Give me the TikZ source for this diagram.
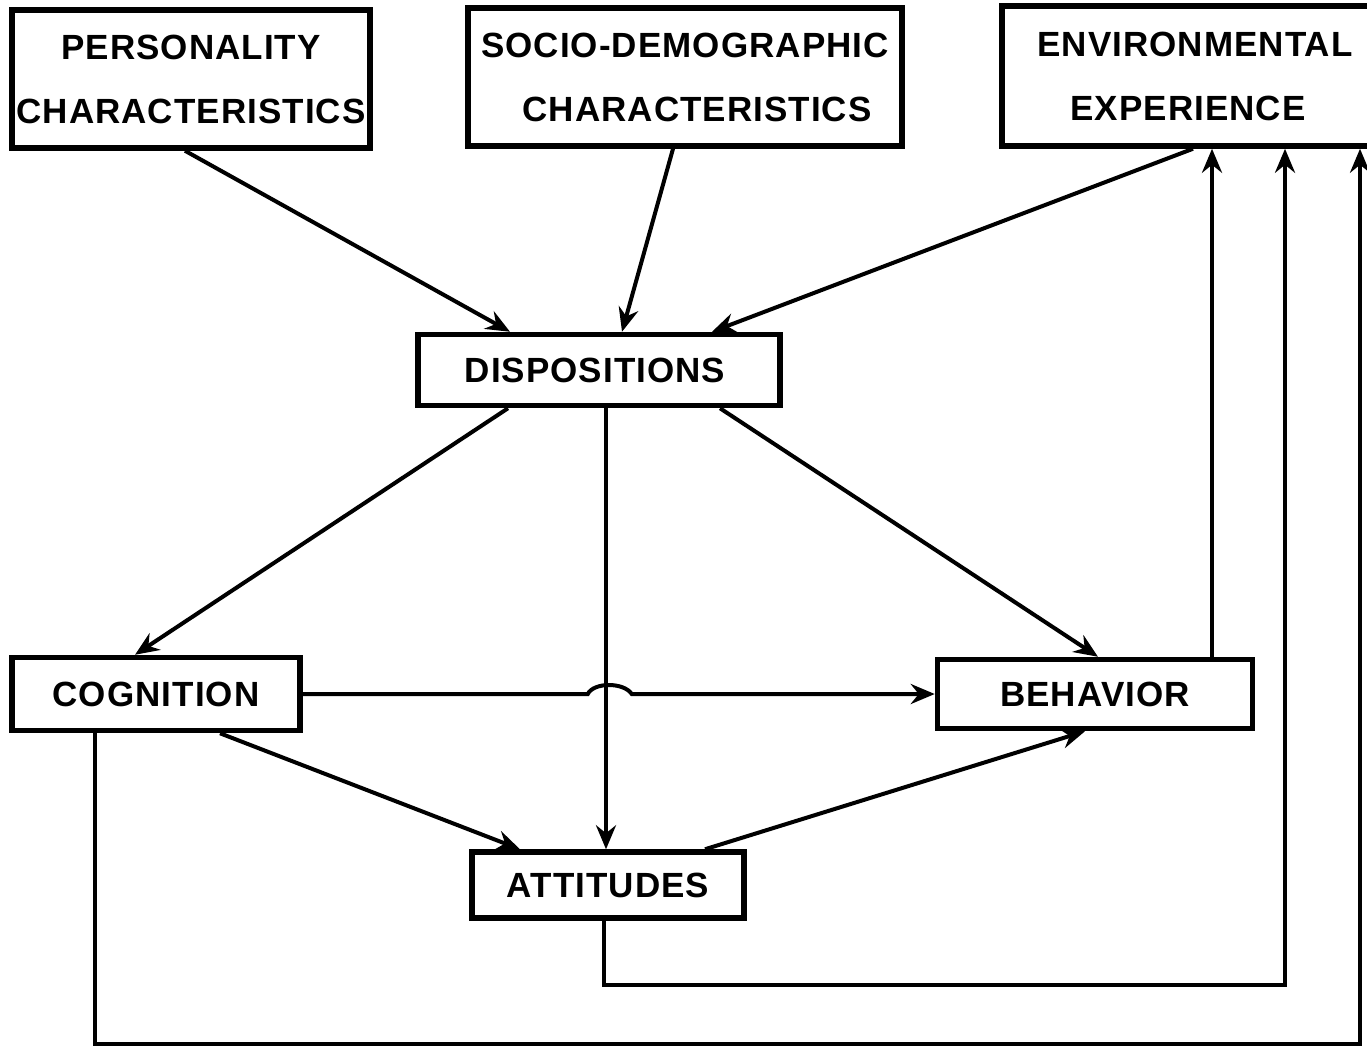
\documentclass[tikz,border=0pt]{standalone}
\usepackage{fontspec}
\setmainfont{Liberation Sans}[LetterSpace=3]
\usetikzlibrary{arrows.meta,calc}
\begin{document}
\begin{tikzpicture}[x=1pt,y=-1pt,
  box/.style={draw,line width=5.5pt,rectangle,inner sep=0pt,align=center,
    font=\fontsize{35}{64}\selectfont\bfseries},
  arr/.style={line width=4pt,-{Stealth[length=24pt,width=20pt,inset=8pt]}},
  ln/.style={line width=4pt}]
\useasboundingbox (0,0) rectangle (1367,1045);
\node[box,minimum width=358pt,minimum height=138pt] (pers) at (191,79) {PERSONALITY\\CHARACTERISTICS};
\node[box,minimum width=434pt,minimum height=138pt] (socio) at (685,77) {SOCIO-DEMOGRAPHIC\\\hspace*{24pt}CHARACTERISTICS};
\node[box,minimum width=372pt,minimum height=140pt,text width=370pt] (env) at (1188,76) {\hspace*{14pt}ENVIRONMENTAL\\EXPERIENCE};
\node[box,minimum width=362pt,minimum height=71pt] (disp) at (599,370) {\hspace*{-8pt}DISPOSITIONS};
\node[box,minimum width=288pt,minimum height=73pt] (cog) at (156,694) {COGNITION};
\node[box,minimum width=315pt,minimum height=69pt] (beh) at (1095,694) {BEHAVIOR};
\node[box,minimum width=272pt,minimum height=66pt] (att) at (608,885) {ATTITUDES};

\draw[arr] ([xshift=-6pt]pers.south) -- ([xshift=-89pt]disp.north);
\draw[arr] ([xshift=-12pt]socio.south) -- ([xshift=23pt]disp.north);
\draw[arr] ([xshift=5pt]env.south) -- ([xshift=113pt]disp.north);
\draw[arr] ([xshift=-91pt]disp.south) -- ([xshift=-21pt]cog.north);
\draw[arr] ([xshift=7pt]disp.south) -- ([xshift=-2pt]att.north);
\draw[arr] ([xshift=121pt]disp.south) -- ([xshift=3pt]beh.north);
\draw[arr] (cog.east) -- ++(285,0) .. controls +(6,-12) and +(-8,-12) .. ++(44,0) -- (beh.west);
\draw[arr] ([xshift=64pt]cog.south) -- ([xshift=-88pt]att.north);
\draw[arr] ([xshift=97pt]att.north) -- ([xshift=-10pt]beh.south);
\draw[arr] ([xshift=117pt]beh.north) -- ([xshift=24pt]env.south);
\draw[arr] ([xshift=-4pt]att.south) -- ++(0,64) -| ([xshift=97pt]env.south);
\draw[arr] ([xshift=-61pt]cog.south) -- ++(0,311) -| ([xshift=172pt]env.south);
\end{tikzpicture}
\end{document}
